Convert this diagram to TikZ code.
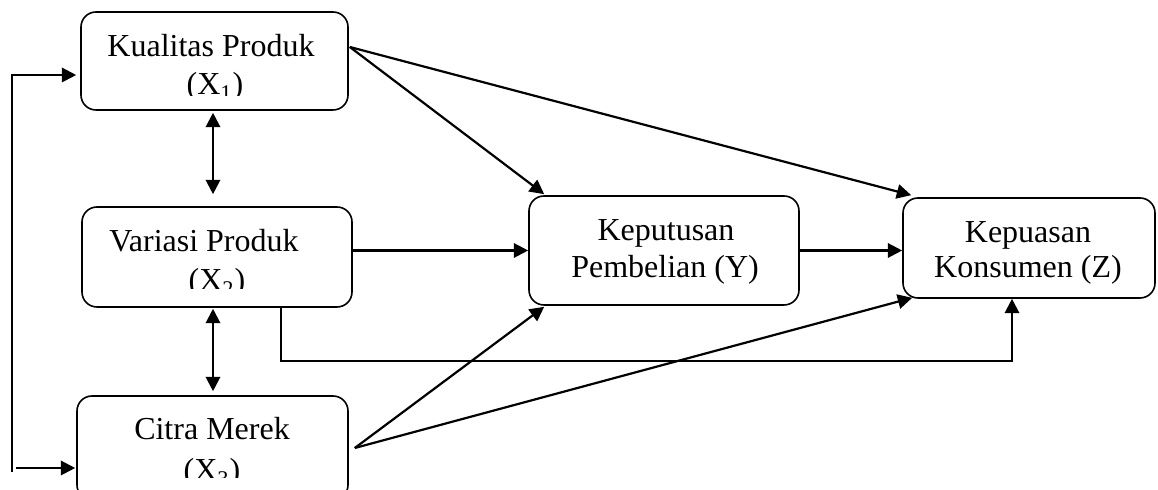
\documentclass[tikz,border=0pt]{standalone}
\usepackage{fontspec}
\setmainfont{Liberation Serif}
\usetikzlibrary{arrows.meta,calc}
\begin{document}
\begin{tikzpicture}[x=0.5pt,y=-0.5pt,
  box/.style={draw,line width=0.8pt,rounded corners=7.5pt,inner sep=0pt},
  arr/.style={-{Triangle[length=7.2pt,width=7.2pt]},line width=1.1pt},
  darr/.style={{Triangle[length=7.2pt,width=7.2pt]}-{Triangle[length=7.2pt,width=7.2pt]},line width=1.1pt},
  lbl/.style={anchor=base,inner sep=0pt,font=\fontsize{16}{19}\selectfont}]
\useasboundingbox (0,0) rectangle (1158,490);
\clip (0,0) rectangle (1158,490);
% boxes
\node[box,minimum width=133.5pt,minimum height=49pt] (X1) at (214.5,61) {};
\node[box,minimum width=135pt,minimum height=50pt] (X2) at (217,257) {};
\node[box,minimum width=135.5pt,minimum height=52pt] (X3) at (212.5,448) {};
\node[box,minimum width=135pt,minimum height=54.5pt] (Y) at (664,250.5) {};
\node[box,minimum width=126pt,minimum height=50pt] (Z) at (1029,248) {};
% texts
\node[lbl] (t1a) at (211,57) {Kualitas Produk};
\begin{scope}
\clip (0,0) rectangle (1158,96);
\node[lbl] (t1b) at (215,95) {(X\textsubscript{1})};
\end{scope}
\node[lbl] (t2a) at (204,252) {Variasi Produk};
\begin{scope}
\clip (0,0) rectangle (1158,289);
\node[lbl] (t2b) at (217,291) {(X\textsubscript{2})};
\end{scope}
\node[lbl] (t3a) at (212,440) {Citra Merek};
\begin{scope}
\clip (0,0) rectangle (1158,478);
\node[lbl] (t3b) at (212,481) {(X\textsubscript{3})};
\end{scope}
\node[lbl] (tya) at (666,241) {Keputusan};
\node[lbl] (tyb) at (665,278) {Pembelian (Y)};
\node[lbl] (tza) at (1028,243) {Kepuasan};
\node[lbl] (tzb) at (1028,278) {Konsumen (Z)};
% connectors
\draw[arr] ($(X1.east)+(1,-14)$) -- ($(Y.north west)+(16,-1)$);
\draw[arr] ($(X1.east)+(1,-14)$) -- ($(Z.north west)+(9,-2)$);
\draw[arr] (X2.east |- Y.west) -- (Y.west);
\draw[arr] (Y.east) -- (Y.east -| Z.west);
\draw[arr] ($(X2.south)+(64,0)$) -- ++(0,53) -| ($(Z.south)+(-17,0)$);
\draw[arr] ($(X3.east)+(6,0)$) -- ($(Y.south west)+(16,1)$);
\draw[arr] ($(X3.east)+(6,0)$) -- ($(Z.south west)+(10,-1)$);
\draw[darr] ($(X1.south)+(-1.5,2)$) -- ($(X2.north)+(-4,-12)$);
\draw[darr] ($(X2.south)+(-4,1)$) -- ($(X3.north)+(0.5,-4)$);
\coordinate (L1) at (12,472);
\coordinate (L2) at (16,468);
\draw[arr] (L1) |- ($(X1.west)+(-4,14)$);
\draw[arr] (L2) -- ($(X3.west)+(-1,20)$);
\end{tikzpicture}
\end{document}
